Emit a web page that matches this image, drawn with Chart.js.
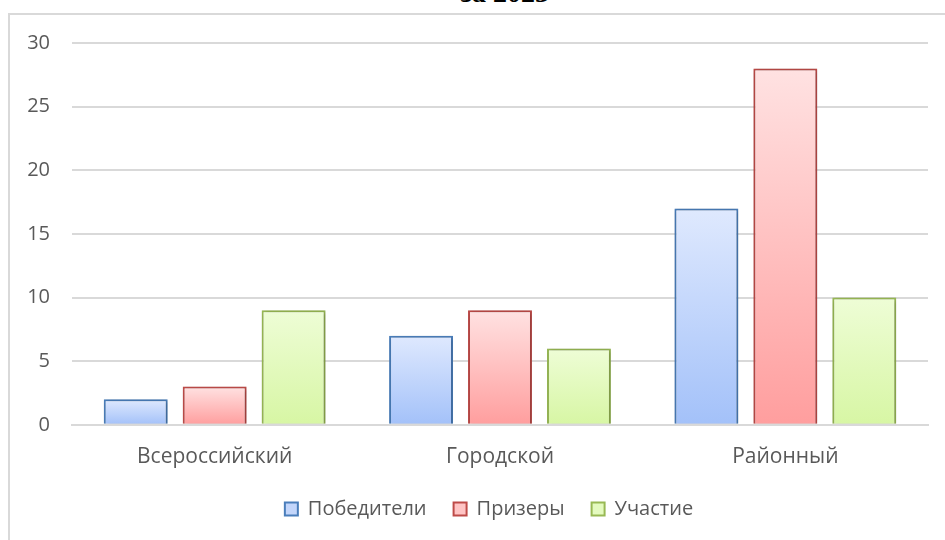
<!DOCTYPE html>
<html>
<head>
<meta charset="utf-8">
<script src="https://cdn.jsdelivr.net/npm/chart.js@4.4.1/dist/chart.umd.min.js"></script>
<style>
    body { margin: 0; background: #fff; overflow: hidden; }
    #wrap { position: relative; width: 945px; height: 540px; overflow: hidden; }
    #frame { position: absolute; left: 8px; top: 13px; right: -5px; bottom: -5px; border-left: 2px solid #d9d9d9; border-top: 2px solid #d9d9d9; }
    #title { position: absolute; left: 0; width: 1010px; top: -23px; line-height: 28px; text-align: center; font: bold 28px "Liberation Serif", serif; color: #000; }
    canvas { position: absolute; left: 0; top: 0; }
</style>
</head>
<body>
<div id="wrap">
    <div id="frame"></div>
    <div id="title">за 2023</div>
    <canvas id="chartCanvas" width="945" height="540"></canvas>
</div>
<script>
// Chart data
const categories = ['Всероссийский', 'Городской', 'Районный'];
const winners = [2, 7, 17];
const prizewinners = [3, 9, 28];
const participation = [9, 6, 10];
const yTicks = [0, 5, 10, 15, 20, 25, 30];

// Gradient per bar, light on top, darker at the base
function barGradient(topColor, bottomColor) {
    return function (context) {
        const chart = context.chart;
        if (!chart.chartArea || context.type !== 'data') return bottomColor;
        const yScale = chart.scales.y;
        const top = yScale.getPixelForValue(context.parsed.y);
        const base = yScale.getPixelForValue(0);
        if (!isFinite(top) || base - top < 1) return bottomColor;
        const g = chart.ctx.createLinearGradient(0, top, 0, base);
        g.addColorStop(0, topColor);
        g.addColorStop(1, bottomColor);
        return g;
    };
}

// Soft shadow behind bars like the office chart
const shadowPlugin = {
    id: 'barShadow',
    beforeDatasetsDraw(chart) {
        const ctx = chart.ctx;
        ctx.save();
        ctx.shadowColor = 'rgba(0,0,0,0.28)';
        ctx.shadowBlur = 4;
        ctx.shadowOffsetX = 1;
        ctx.shadowOffsetY = 1;
    },
    afterDatasetsDraw(chart) {
        chart.ctx.restore();
    }
};

// Legend in the original sits a bit right of the canvas centre
const legendShift = {
    id: 'legendShift',
    afterLayout(chart) {
        if (chart.legend) {
            chart.legend.left += 25;
            chart.legend.right += 25;
        }
    }
};

const textColor = '#595959';
const fontFamily = '"Open Sans", "Noto Sans", sans-serif';

const ctx = document.getElementById('chartCanvas').getContext('2d');
const chart = new Chart(ctx, {
    type: 'bar',
    data: {
        labels: categories,
        datasets: [
            {
                label: 'Победители',
                data: winners,
                backgroundColor: barGradient('#dfe9fe', '#a3c1f9'),
                borderColor: '#4a7ebb',
                borderWidth: 2,
                borderSkipped: 'bottom'
            },
            {
                label: 'Призеры',
                data: prizewinners,
                backgroundColor: barGradient('#ffe2e2', '#ff9e9e'),
                borderColor: '#be4b48',
                borderWidth: 2,
                borderSkipped: 'bottom'
            },
            {
                label: 'Участие',
                data: participation,
                backgroundColor: barGradient('#eefdd6', '#d7f6a4'),
                borderColor: '#98b954',
                borderWidth: 2,
                borderSkipped: 'bottom'
            }
        ]
    },
    options: {
        responsive: false,
        animation: false,
        devicePixelRatio: 1,
        categoryPercentage: 0.83,
        barPercentage: 0.81,
        layout: { padding: { top: 43, right: 17, bottom: 11, left: 0 } },
        plugins: {
            title: { display: false },
            tooltip: { enabled: false },
            legend: {
                position: 'bottom',
                labels: {
                    color: textColor,
                    font: { family: fontFamily, size: 20 },
                    boxWidth: 13,
                    boxHeight: 13,
                    padding: 27,
                    generateLabels(c) {
                        const fills = ['#c3d6fb', '#ffc4c4', '#e4fabf'];
                        return c.data.datasets.map((ds, i) => ({
                            text: ds.label,
                            fillStyle: fills[i],
                            strokeStyle: ds.borderColor,
                            lineWidth: 2,
                            fontColor: textColor,
                            hidden: false,
                            datasetIndex: i
                        }));
                    }
                }
            }
        },
        scales: {
            x: {
                grid: { display: false },
                border: { display: true, color: '#d9d9d9', width: 2 },
                afterFit(axis) {
                    axis.height -= 10;
                },
                ticks: {
                    color: textColor,
                    font: { family: fontFamily, size: 21 },
                    padding: 12
                }
            },
            y: {
                min: 0,
                max: 30,
                afterBuildTicks(axis) {
                    axis.ticks = yTicks.map(v => ({ value: v }));
                },
                afterFit(axis) {
                    axis.width = 72;
                },
                grid: { color: '#d9d9d9', lineWidth: 2, drawTicks: false },
                border: { display: false },
                ticks: {
                    color: textColor,
                    font: { family: fontFamily, size: 20 },
                    padding: 22
                }
            }
        }
    },
    plugins: [shadowPlugin, legendShift]
});
</script>
</body>
</html>
